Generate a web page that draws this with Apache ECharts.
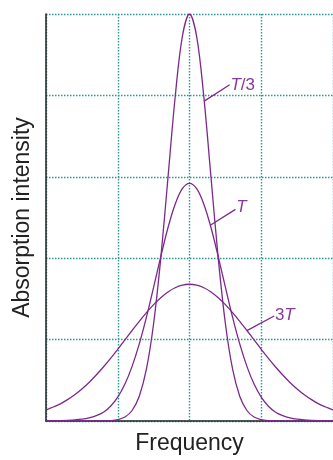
<!DOCTYPE html>
<html>
<head>
<meta charset="utf-8">
<script src="https://cdn.jsdelivr.net/npm/echarts@6/dist/echarts.min.js"></script>
<style>html,body{margin:0;padding:0;background:#fff;}#c{width:333px;height:460px;}</style>
</head>
<body>
<div id="c"></div>
<script>
// Frequency positions (arbitrary units, line centre at 2)
var freq = [0,0.1,0.2,0.3,0.4,0.5,0.6,0.7,0.8,0.9,1.0,1.1,1.2,1.3,1.4,1.5,1.6,1.7,1.8,1.9,2.0,
            2.1,2.2,2.3,2.4,2.5,2.6,2.7,2.8,2.9,3.0,3.1,3.2,3.3,3.4,3.5,3.6,3.7,3.8,3.9,4.0];
// Absorption intensity
var intensityT3 = [0,0,0,0,0,0,0,0,0.002,0.005,0.017,0.049,0.129,0.304,0.639,1.198,2.004,2.990,3.978,4.722,5.000,
                   4.722,3.978,2.990,2.004,1.198,0.639,0.304,0.129,0.049,0.017,0.005,0.002,0,0,0,0,0,0,0,0];
var intensityT = [0.002,0.003,0.005,0.008,0.013,0.022,0.038,0.065,0.107,0.181,0.293,0.454,0.671,0.947,1.276,1.644,2.021,2.374,2.663,2.854,2.920,
                  2.854,2.663,2.374,2.021,1.644,1.276,0.947,0.671,0.454,0.293,0.181,0.107,0.065,0.038,0.022,0.013,0.008,0.005,0.003,0.002];
var intensity3T = [0.135,0.172,0.210,0.262,0.322,0.393,0.474,0.565,0.663,0.770,0.881,0.996,1.112,1.225,1.332,1.430,1.515,1.585,1.637,1.669,1.680,
                   1.669,1.637,1.585,1.515,1.430,1.332,1.225,1.112,0.996,0.881,0.770,0.663,0.565,0.474,0.393,0.322,0.262,0.210,0.172,0.135];
// Annotation label texts and their leader lines (data coords)
var labelT3 = 'T/3', labelT = 'T', label3T = '3T';
var leaders = [
  {from:[2.205,3.93], to:[2.56,4.13], text:'{i|T}{n|/3}', textAt:[2.57,4.12]},
  {from:[2.29,2.405], to:[2.64,2.60], text:'{i|T}', textAt:[2.65,2.62]},
  {from:[2.80,1.11], to:[3.18,1.29], text:'{n|3}{i|T}', textAt:[3.19,1.30]}
];

var purple = '#7b2a8b';
var teal = '#2a9897';
var fontFam = '"Liberation Sans", Arial, Helvetica, sans-serif';
function mk(arr){ return freq.map(function(x,i){ return [x, arr[i]]; }); }

var chart = echarts.init(document.getElementById('c'), null, {renderer:'canvas'});
var lineSeries = function(name, arr){
  return {name:name, type:'line', data:mk(arr), smooth:0.35, showSymbol:false, symbol:'none',
          lineStyle:{color:purple, width:1.3}, itemStyle:{color:purple}, clip:true, silent:true};
};
chart.setOption({
  animation:false,
  backgroundColor:'#fff',
  grid:{left:46, right:-1, top:14, bottom:30, containLabel:false},
  xAxis:{type:'value', min:0, max:4, interval:1,
    name:'Frequency', nameLocation:'middle', nameGap:11,
    nameTextStyle:{fontFamily:fontFam, fontSize:23, color:'#222', verticalAlign:'top'},
    axisLine:{show:true, onZero:false, lineStyle:{color:'#222', width:1.5}},
    axisTick:{show:false}, axisLabel:{show:false},
    splitLine:{show:true, lineStyle:{color:teal, width:1.4, type:[1.5,1.5]}}},
  yAxis:{type:'value', min:0, max:5, interval:1,
    name:'Absorption intensity', nameLocation:'middle', nameGap:12,
    nameTextStyle:{fontFamily:fontFam, fontSize:23, color:'#222'},
    axisLine:{show:true, lineStyle:{color:'#222', width:1.5}},
    axisTick:{show:false}, axisLabel:{show:false},
    splitLine:{show:true, lineStyle:{color:teal, width:1.4, type:[1.5,1.5]}}},
  series:[lineSeries(labelT3, intensityT3), lineSeries(labelT, intensityT), lineSeries(label3T, intensity3T)]
});

var g = [];
leaders.forEach(function(l){
  var a = chart.convertToPixel({gridIndex:0}, l.from);
  var b = chart.convertToPixel({gridIndex:0}, l.to);
  var t = chart.convertToPixel({gridIndex:0}, l.textAt);
  g.push({type:'line', shape:{x1:a[0], y1:a[1], x2:b[0], y2:b[1]}, style:{stroke:purple, lineWidth:1.3}, z:10});
  g.push({type:'text', x:t[0], y:t[1], z:10, style:{text:l.text, fill:'#8a3a99', verticalAlign:'middle', align:'left',
    rich:{i:{fontFamily:fontFam, fontSize:17, fontStyle:'italic', fill:'#8a3a99'},
          n:{fontFamily:fontFam, fontSize:17, fill:'#8a3a99'}}}});
});
chart.setOption({graphic:g});
</script>
</body>
</html>
